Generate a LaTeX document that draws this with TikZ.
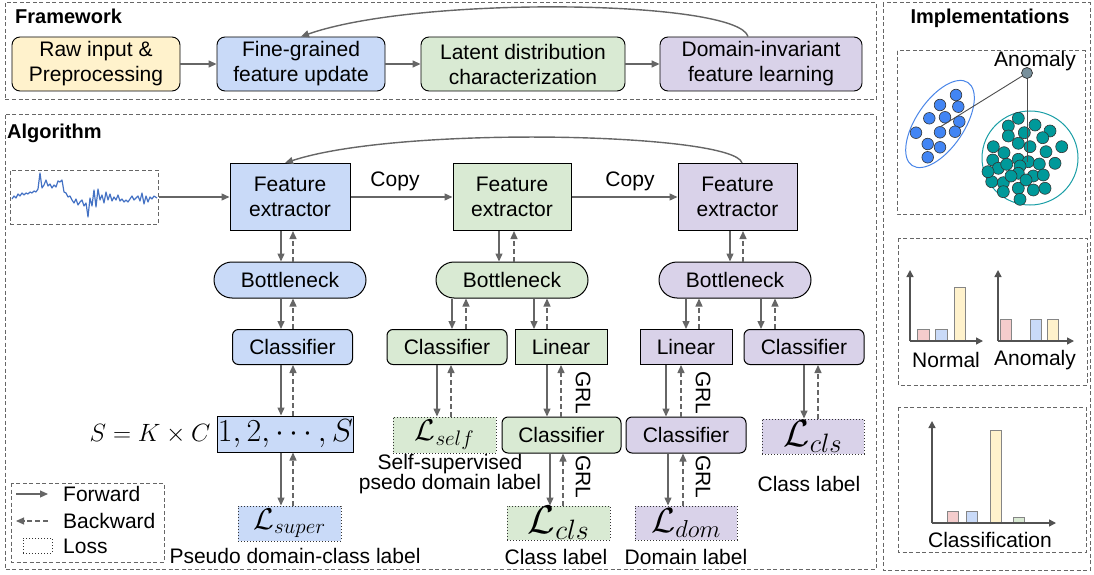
\RequirePackage{fix-cm}
\documentclass[tikz,border=0pt]{standalone}
\usepackage{fontspec}
\setmainfont{Liberation Sans}
\usetikzlibrary{arrows.meta,shapes.misc}
\definecolor{cblue}{HTML}{C9DAF8}
\definecolor{cgreen}{HTML}{D9EAD3}
\definecolor{cpurple}{HTML}{D9D2E9}
\definecolor{cyellow}{HTML}{FFF2CC}
\definecolor{cpink}{HTML}{F4CCCC}
\definecolor{cgray}{HTML}{666666}
\definecolor{dblue}{HTML}{4285F4}
\definecolor{eblue}{HTML}{4A86E8}
\definecolor{tealdot}{HTML}{00999A}
\definecolor{tealline}{HTML}{1A9EA6}
\definecolor{sigblue}{HTML}{4472C4}
\definecolor{anom}{HTML}{78909C}
\newcommand\fsz[2]{\fontsize{#1}{#2}\selectfont}
\newcommand\vpair[4]{%
  \coordinate (vpa) at (#1,0); \coordinate (vpb) at (#2,0);
  \draw[fwd] (#3.south -| vpa) -- (#4.north -| vpa);
  \draw[bwd] (#4.north -| vpb) -- (#3.south -| vpb);}
\begin{document}
\begin{tikzpicture}[x=1pt,y=-1pt,
  fw/.style={draw=black, line width=0.9pt, rounded corners=8pt, minimum height=54pt, align=center, font=\fsz{21}{25}, inner sep=0pt},
  sq/.style={draw=black, line width=1pt, align=center, inner sep=0pt, font=\fsz{21}{25}},
  rnd/.style={sq, rounded corners=6pt},
  bneck/.style={draw=black, line width=1pt, rounded rectangle, minimum width=152pt, minimum height=36pt, font=\fsz{21}{25}, inner sep=0pt},
  loss/.style={draw=black!80, dotted, line width=1pt, inner sep=0pt},
  fwd/.style={draw=cgray, line width=1.4pt, -{Triangle[length=8pt,width=7pt]}},
  bwd/.style={fwd, dash pattern=on 5pt off 3pt},
  frame/.style={draw=cgray, dash pattern=on 4pt off 2.5pt, line width=1pt},
  lbl/.style={font=\fsz{21}{25}, inner sep=0pt, align=center},
  ttl/.style={font=\fsz{20}{24}\bfseries, inner sep=0pt},
  bdot/.style={draw=black!80, fill=dblue, line width=0.6pt},
  tdot/.style={draw=black!80, fill=tealdot, line width=0.6pt},
  ax/.style={draw=cgray!80!black, line width=1.4pt, -{Triangle[length=7pt,width=7pt]}},
  bar/.style={draw=cgray!80, line width=0.9pt},
]
\useasboundingbox (0,0) rectangle (1094,575);

% ---------- frames ----------
\draw[frame] (5,3) rectangle (876,100);
\draw[frame] (5,115) rectangle (876,569);
\draw[frame] (883,3) rectangle (1090,570);
\node[ttl, anchor=west] (tfw) at (15,16) {Framework};
\node[ttl, anchor=west] (talg) at (7,133) {Algorithm};
\node[ttl] (timp) at (990,18) {Implementations};

% ---------- Framework ----------
\node[fw, fill=cyellow, minimum width=168pt] (raw) at (96,64) {Raw input \&\\Preprocessing};
\node[fw, fill=cblue, minimum width=168pt] (fine) at (301,64) {Fine-grained\\feature update};
\node[fw, fill=cgreen, minimum width=204pt] (latent) at (523,64) {Latent distribution\\characterization};
\node[fw, fill=cpurple, minimum width=202pt] (dinv) at (761,64) {Domain-invariant\\feature learning};
\draw[fwd] (raw) -- (fine);
\draw[fwd] (fine) -- (latent);
\draw[fwd] (latent) -- (dinv);
\draw[fwd] ([xshift=-13pt]dinv.north) .. controls (738,0) and (420,-5) .. (fine.north);

% ---------- Algorithm ----------
\node[draw=cgray, dash pattern=on 4pt off 2.5pt, line width=1pt, minimum width=148pt, minimum height=54pt, inner sep=0pt] (sig) at (84,197) {};
\draw[sigblue, line width=1.2pt, line join=round] plot coordinates {
(12,199) (14,196) (16,198) (18,194) (20,196) (22,193) (24,195) (26,193) (28,194) (30,192)
(32,193) (34,191) (36,192) (38,189) (40,173) (42,188) (44,185) (46,180) (48,186) (50,184)
(52,188) (54,185) (56,187) (58,181) (60,182) (62,180) (64,192) (66,193) (68,197) (70,196)
(72,200) (74,203) (76,199) (78,205) (80,202) (82,200) (84,206) (86,203) (88,217) (90,198)
(92,206) (94,190) (96,207) (98,189) (100,200) (102,195) (104,203) (106,192) (108,200) (110,194)
(112,201) (114,197) (116,200) (118,195) (120,201) (122,199) (124,202) (126,200) (128,202) (130,199)
(132,196) (134,200) (136,198) (138,196) (140,201) (142,193) (144,204) (146,196) (148,202) (150,197)
(152,199) (154,196) (157,198)};

\node[sq, fill=cblue, minimum width=120pt, minimum height=67pt] (fe1) at (290,197) {Feature\\extractor};
\node[sq, fill=cgreen, minimum width=118pt, minimum height=67pt] (fe2) at (512,197) {Feature\\extractor};
\node[sq, fill=cpurple, minimum width=119pt, minimum height=67pt] (fe3) at (737.5,197) {Feature\\extractor};
\draw[fwd] (sig) -- (fe1);
\draw[fwd] (fe1) -- (fe2);
\draw[fwd] (fe2) -- (fe3);
\node[lbl] (copy1) at (395,181) {Copy};
\node[lbl] (copy2) at (630,181) {Copy};
\draw[fwd] ([xshift=4.5pt]fe3.north) .. controls (735,133) and (400,125) .. ([xshift=-5pt]fe1.north);

\node[bneck, fill=cblue] (bn1) at (290,280) {Bottleneck};
\node[bneck, fill=cgreen] (bn2) at (512,280) {Bottleneck};
\node[bneck, fill=cpurple] (bn3) at (735,280) {Bottleneck};

\node[rnd, fill=cblue, minimum width=120pt, minimum height=35pt] (cls1) at (292.5,347) {Classifier};
\node[rnd, fill=cgreen, minimum width=120pt, minimum height=35pt] (cls2) at (447,347) {Classifier};
\node[sq, fill=cgreen, minimum width=92pt, minimum height=35pt] (lin2) at (561,347) {Linear};
\node[sq, fill=cpurple, minimum width=92pt, minimum height=35pt] (lin3) at (686,347) {Linear};
\node[rnd, fill=cpurple, minimum width=120pt, minimum height=35pt] (cls3) at (804,347) {Classifier};

\node[sq, fill=cblue, minimum width=135pt, minimum height=36pt, font=\fsz{32}{36}] (sbox) at (285.5,434) {$1,2,\cdots,S$};
\node[inner sep=0pt, font=\fsz{25}{30}] (skc) at (150,434) {$S=K\times C$};
\node[loss, fill=cblue, minimum width=103pt, minimum height=35pt, font=\fsz{30}{32}] (lsup) at (289.5,523.5) {$\mathcal{L}_{super}$};

\node[loss, fill=cgreen, minimum width=103pt, minimum height=36pt, font=\fsz{30}{32}] (lself) at (444.5,435) {$\mathcal{L}_{self}$};
\node[rnd, fill=cgreen, minimum width=119pt, minimum height=36pt] (cls2b) at (561.5,435) {Classifier};
\node[rnd, fill=cpurple, minimum width=120pt, minimum height=36pt] (cls3b) at (686,435) {Classifier};
\node[loss, fill=cpurple, minimum width=102pt, minimum height=35pt, font=\fsz{38}{38}] (lcls3) at (813,436.5) {$\mathcal{L}_{cls}$};
\node[loss, fill=cgreen, minimum width=103pt, minimum height=34pt, font=\fsz{40}{40}] (lcls2) at (558.5,523) {$\mathcal{L}_{cls}$};
\node[loss, fill=cpurple, minimum width=102pt, minimum height=34pt, font=\fsz{35}{36}] (ldom) at (686,523) {$\mathcal{L}_{dom}$};

% vertical arrow pairs
\vpair{281}{293}{fe1}{bn1}
\vpair{281}{293}{bn1}{cls1}
\vpair{281}{293}{cls1}{sbox}
\vpair{281}{293}{sbox}{lsup}
\vpair{499}{514}{fe2}{bn2}
\vpair{452}{466}{bn2}{cls2}
\vpair{534}{547}{bn2}{lin2}
\vpair{730}{743}{fe3}{bn3}
\vpair{686}{699}{bn3}{lin3}
\vpair{761}{775}{bn3}{cls3}
\vpair{437}{451}{cls2}{lself}
\vpair{547}{561}{lin2}{cls2b}
\vpair{666}{681}{lin3}{cls3b}
\vpair{804}{818}{cls3}{lcls3}
\vpair{550}{563}{cls2b}{lcls2}
\vpair{668}{683}{cls3b}{ldom}

\node[lbl, rotate=-90] (grl1) at (583,393) {GRL};
\node[lbl, rotate=-90] (grl2) at (703,393) {GRL};
\node[lbl, rotate=-90] (grl3) at (583,477) {GRL};
\node[lbl, rotate=-90] (grl4) at (703,477) {GRL};

\node[lbl, font=\fsz{21}{16}] (selfl) at (450,474) {Self-supervised\\psedo domain label};
\node[lbl] (pdcl) at (295,556) {Pseudo domain-class label};
\node[lbl] (cl2) at (556,557) {Class label};
\node[lbl] (dl) at (686,557) {Domain label};
\node[lbl] (cl3) at (809,484) {Class label};

% legend
\draw[frame] (11,483) rectangle (164,562);
\coordinate (lfa) at (16,494); \coordinate (lfb) at (48,494);
\draw[fwd, line width=1.1pt] (lfa) -- (lfb);
\coordinate (lba) at (48,521); \coordinate (lbb) at (16,521);
\draw[bwd, line width=1.1pt] (lba) -- (lbb);
\node[loss, minimum width=29pt, minimum height=15pt] (lloss) at (37.5,545.5) {};
\node[lbl, anchor=west] (tf) at (63,494) {Forward};
\node[lbl, anchor=west] (tb) at (63,521) {Backward};
\node[lbl, anchor=west] (tl) at (63,546) {Loss};

% ---------- Implementations ----------
\draw[frame] (897,51) rectangle (1085,214);
\draw[frame] (898,238) rectangle (1087,385);
\draw[frame] (898,407) rectangle (1086,552);

\draw[eblue, line width=1pt, rotate around={56:(940,124)}] (940,124) ellipse [x radius=50, y radius=24];
\draw[tealline, line width=1pt] (1030,158) ellipse [x radius=48, y radius=47];
\foreach \p in {(956,95),(958.3,106.7),(940,105),(929.3,118.3),(945,117.3),(959.3,121.7),(916,132.7),(940,132.3),(955,131.7),(927.7,144),(940,147.3),(927.7,157.3)}
  \draw[bdot] \p circle (5.8);
\foreach \p in {(1018.3,118.3),(1008.3,126),(1035,125),(1050,131),(1024.3,132.7),(1008.3,136),(1042.7,137.7),(1018.3,143.3),(993.3,146.7),(1030,146.7),(1061.7,146.7),(1046,151.7),(1004,152.7),(992.7,160),(1018.3,159.3),(1028.3,161.7),(1039.3,164),(1055,163.3),(998.3,168.3),(1006.7,164.3),(1020,166),(991.7,181.7),(1003.3,182.7),(1018.3,173.3),(1033.3,176),(1043.3,175),(1003.3,191.7),(1018.3,188.3),(1033.3,190),(1045,188.3),(1020,199.3),(988,171.7),(1011,176),(1026,180)}
  \draw[tdot] \p circle (6);
\coordinate (ap) at (1027,73);
\coordinate (ab) at (940,127);
\coordinate (at) at (1027,162);
\draw[black!70, line width=0.9pt] (ap) -- (ab);
\draw[black!70, line width=0.9pt] (ap) -- (at);
\draw[draw=black!80, fill=anom, line width=0.7pt] (ap) circle (5.5);
\node[lbl] (anomt) at (1035,61) {Anomaly};

% chart 1
\draw[bar, fill=cpink] (917,341) rectangle (929,329);
\draw[bar, fill=cblue] (935,341) rectangle (947,329);
\draw[bar, fill=cyellow] (954,341) rectangle (965,287);
\draw[ax] (910,341) -- (910,270);
\draw[ax] (910,341) -- (983,341);
\node[lbl] (normt) at (946,360) {Normal};
% chart 2
\draw[bar, fill=cpink] (1000,341) rectangle (1011,319);
\draw[bar, fill=cblue] (1030,341) rectangle (1041,319);
\draw[bar, fill=cyellow] (1047,341) rectangle (1058,319);
\draw[ax] (998,341) -- (998,270);
\draw[ax] (998,341) -- (1074,341);
\node[lbl] (anomt2) at (1035,360) {Anomaly};
% chart 3
\draw[bar, fill=cpink] (947,523) rectangle (958,511);
\draw[bar, fill=cblue] (966,523) rectangle (977,511);
\draw[bar, fill=cyellow] (990,523) rectangle (1001,430);
\draw[bar, fill=cgreen] (1013,523) rectangle (1024,517);
\draw[ax] (932,523) -- (932,421);
\draw[ax] (932,523) -- (1056,523);
\node[lbl] (classt) at (990,540) {Classification};
\end{tikzpicture}
\end{document}
